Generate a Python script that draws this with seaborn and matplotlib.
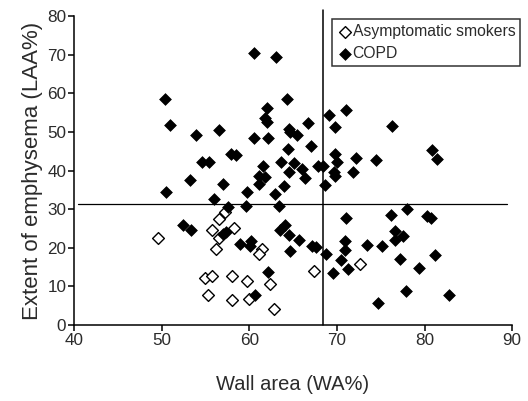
import pandas as pd
import seaborn as sns
import matplotlib
matplotlib.use("Agg")
import matplotlib.pyplot as plt

# asymptomatic smokers (open diamonds)
smoker_wa = [49.6, 55.8, 56.6, 57.2, 56.6, 56.2, 58.3, 55.0, 55.8, 58.0,
             59.8, 55.3, 58.0, 60.0, 61.5, 61.1, 62.4, 62.8, 67.4, 72.6]
smoker_laa = [22.6, 24.5, 27.5, 29.3, 22.4, 19.8, 25.1, 12.2, 12.7, 12.6,
              11.5, 7.7, 6.6, 6.7, 19.6, 18.4, 10.6, 4.2, 14.0, 15.7]

# COPD (filled diamonds)
copd_wa = [50.4, 51.0, 53.9, 56.6, 54.6, 55.4, 57.9, 58.5, 60.5, 63.0,
           62.0, 61.8, 62.0, 60.6, 62.1, 61.6, 63.6, 53.3, 57.0, 50.5,
           59.7, 56.0, 57.6, 59.6, 61.1, 61.8, 61.1, 62.9, 63.4, 52.4,
           53.4, 57.0, 57.3, 58.9, 60.2, 60.1, 62.1, 60.7, 64.3, 71.0,
           69.1, 66.7, 64.5, 64.7, 65.5, 69.8, 64.4, 67.1, 69.8, 70.0,
           72.2, 74.5, 65.1, 66.0, 66.4, 64.5, 67.9, 68.4, 71.8, 69.7,
           69.8, 64.0, 68.7, 76.3, 80.9, 81.4, 78.0, 64.1, 63.5, 64.5,
           65.7, 64.6, 67.2, 67.6, 68.8, 71.0, 70.9, 70.9, 73.4, 70.5,
           71.3, 69.6, 76.2, 80.3, 80.7, 76.6, 77.6, 76.6, 75.2, 77.2,
           81.2, 79.4, 77.9, 82.8, 74.7]
copd_laa = [58.4, 51.7, 49.3, 50.4, 42.2, 42.2, 44.2, 43.9, 70.4, 69.5,
            56.3, 53.7, 52.5, 48.3, 48.5, 41.2, 42.2, 37.6, 36.4, 34.4,
            34.4, 32.6, 30.6, 30.9, 38.7, 38.4, 36.5, 34.0, 30.7, 26.0,
            24.5, 23.5, 24.2, 21.1, 21.7, 20.4, 13.7, 7.7, 58.6, 55.6,
            54.3, 52.2, 50.8, 50.0, 49.3, 51.2, 45.5, 46.3, 44.4, 42.2,
            43.2, 42.6, 42.0, 40.5, 38.1, 39.6, 41.1, 41.3, 39.6, 39.5,
            38.6, 36.1, 36.2, 51.4, 45.2, 43.1, 30.0, 26.0, 24.5, 23.4,
            22.0, 19.2, 20.4, 20.2, 18.5, 27.8, 21.8, 19.4, 20.6, 16.8,
            14.6, 13.5, 28.5, 28.2, 27.6, 24.4, 23.0, 22.0, 20.5, 17.1,
            18.1, 14.8, 8.9, 7.8, 5.8]

# cut-off lines
wa_cut = 68.4
laa_cut = 31.3

smokers = pd.DataFrame({"wa": smoker_wa, "laa": smoker_laa})
copd = pd.DataFrame({"wa": copd_wa, "laa": copd_laa})

sns.set_theme(style="ticks")
plt.rcParams['font.family'] = ['Liberation Sans', 'DejaVu Sans']
txt = '#2b2b2b'

fig = plt.figure(figsize=(5.28, 4.01), dpi=100)
ax = fig.add_axes([0.140, 0.1895, 0.830, 0.7705])

sns.scatterplot(data=smokers, x="wa", y="laa", marker="D", s=36,
                color="white", edgecolor="black", linewidth=1.0,
                label="Asymptomatic smokers", ax=ax, zorder=3)
sns.scatterplot(data=copd, x="wa", y="laa", marker="D", s=36,
                color="black", edgecolor="black", linewidth=0.5,
                label="COPD", ax=ax, zorder=3)

ax.plot([wa_cut, wa_cut], [0, 81.5], color="black", lw=1.1, clip_on=False, zorder=2)
ax.plot([40.5, 89.4], [laa_cut, laa_cut], color="black", lw=0.9, clip_on=False, zorder=2)

ax.set_xlim(40, 90)
ax.set_ylim(0, 80)
ax.set_xticks(range(40, 91, 10))
ax.set_yticks(range(0, 81, 10))
sns.despine(ax=ax)
for sp in ["left", "bottom"]:
    ax.spines[sp].set_linewidth(1.1)
    ax.spines[sp].set_color("black")
ax.tick_params(direction="out", length=4, width=1.1, color="black",
               labelsize=12.3, labelcolor=txt, pad=1.5)

ax.set_xlabel("Wall area (WA%)", fontsize=14.5, color=txt, labelpad=20)
ax.set_ylabel("Extent of emphysema (LAA%)", fontsize=16, color=txt, labelpad=3)

leg = ax.legend(loc="upper right", bbox_to_anchor=(0.985, 0.952),
                bbox_transform=fig.transFigure, frameon=True, fancybox=False,
                fontsize=11.3, handletextpad=0.0, borderpad=0.3,
                labelspacing=0.45, handlelength=1.0, borderaxespad=0)
leg.get_frame().set_edgecolor("black")
leg.get_frame().set_linewidth(1.1)
for t in leg.get_texts():
    t.set_color(txt)

fig.savefig("out.png", dpi=100)
